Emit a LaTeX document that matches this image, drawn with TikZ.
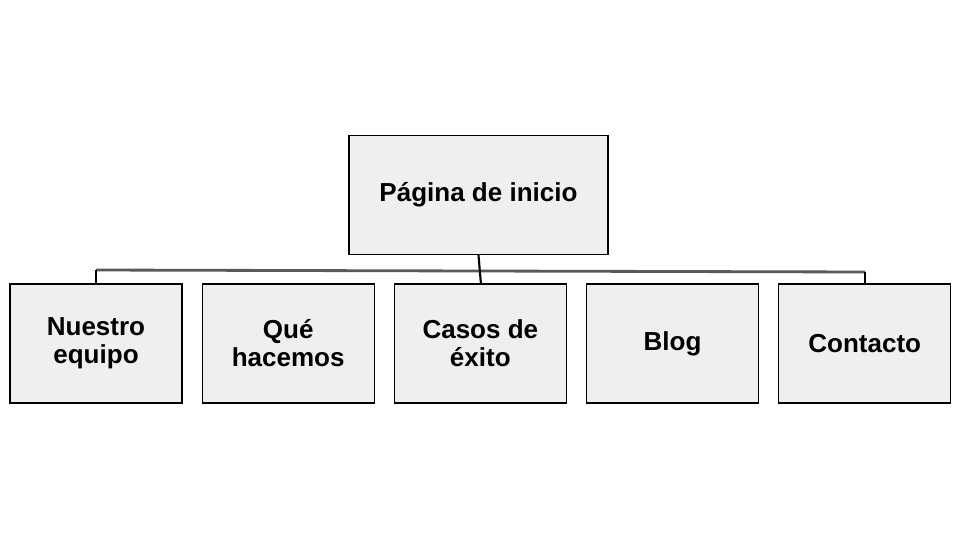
\documentclass[tikz,border=0pt]{standalone}
\usepackage{fontspec}
\setmainfont{Liberation Sans}
\usetikzlibrary{positioning}
\definecolor{boxfill}{HTML}{EFEFEF}
\definecolor{barline}{HTML}{595959}
\begin{document}
\begin{tikzpicture}
[
x=0.025cm, y=-0.025cm,
pagebox/.style={rectangle, draw=black, fill=boxfill, line width=0.8pt, align=center,
  minimum width=4.3cm, minimum height=2.975cm, inner sep=0pt,
  font=\fontsize{18.5}{20}\selectfont\bfseries},
link/.style={line width=1.5pt, black},
]
\useasboundingbox (0,0) rectangle (960,540);
%top level
\node[pagebox, minimum width=6.475cm] (home) at (478.5,195) {Página de inicio};
%bottom level
\node[pagebox] (team) at (96,343.5) {Nuestro\\equipo};
\node[pagebox, right=0.475cm of team] (what) {Qué\\hacemos};
\node[pagebox, right=0.475cm of what] (cases) {Casos de\\éxito};
\node[pagebox, right=0.475cm of cases] (blog) {Blog};
\node[pagebox, right=0.475cm of blog] (contact) {Contacto};
%connectors
\coordinate (barl) at (96,270);
\coordinate (barr) at (865,272);
\draw[line width=2pt, barline] (barl) -- (barr);
\draw[link] (barl) -- (team.north);
\draw[link] (barr) -- (contact.north -| barr);
\draw[link] (home.south) -- ([xshift=0.06cm]cases.north -| home.south);
\end{tikzpicture}
\end{document}
